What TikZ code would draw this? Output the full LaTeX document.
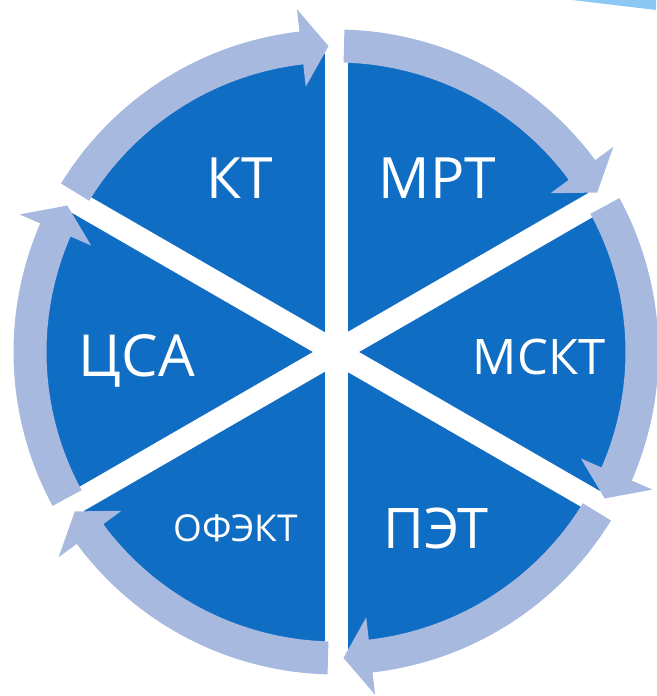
\documentclass[tikz,border=0pt]{standalone}
\usepackage{fontspec}
\setmainfont{Open Sans}
\definecolor{discblue}{HTML}{0F6DC3}
\definecolor{bandcol}{HTML}{A8B9E0}
\definecolor{skyline}{HTML}{8CC8F4}
\tikzset{
  lbl/.style={text=white, anchor=base, inner sep=0pt},
  ringband/.style={fill=bandcol, draw=none}
}
\begin{document}
\begin{tikzpicture}[x=1pt,y=1pt]
\useasboundingbox (0,0) rectangle (656,696);
\fill[skyline] (572,696) -- (656,686) -- (656,696) -- cycle;
\coordinate (c) at (336,344);
\begin{scope}[shift={(336,344)}]
  \fill[discblue] (0,0) circle[radius=298];
  \foreach \a in {90,30,-30} {
    \draw[white, line width=23] (\a:306) -- (\a+180:306);
  }
  \foreach \s in {150,90,30,-30,-90,-150} {
    \pgfmathsetmacro\tailA{\s-1.5}
    \pgfmathsetmacro\tipA{\s-60+1.4}
    \pgfmathsetmacro\baseA{\s-60+6.5}
    \fill[ringband] (\tailA:322.5) arc[start angle=\tailA, end angle=\baseA, radius=322.5]
      -- (\baseA:345) -- (\tipA:306) -- (\baseA:267) -- (\baseA:289.5)
      arc[start angle=\baseA, end angle=\tailA, radius=289.5] -- cycle;
  }
\end{scope}
\node[lbl, font=\fontsize{57}{60}\selectfont] (kt) at (240,497) {КТ};
\node[lbl, font=\fontsize{57}{60}\selectfont] (mrt) at (437.5,497) {МРТ};
\node[lbl, font=\fontsize{58}{60}\selectfont] (csa) at (137,319) {ЦСА};
\node[lbl, font=\fontsize{49}{52}\selectfont] (mskt) at (539,321) {МСКТ};
\node[lbl, font=\fontsize{37}{40}\selectfont] (ofekt) at (236,154) {ОФЭКТ};
\node[lbl, font=\fontsize{56}{60}\selectfont] (pet) at (436,147) {ПЭТ};
\end{tikzpicture}
\end{document}
